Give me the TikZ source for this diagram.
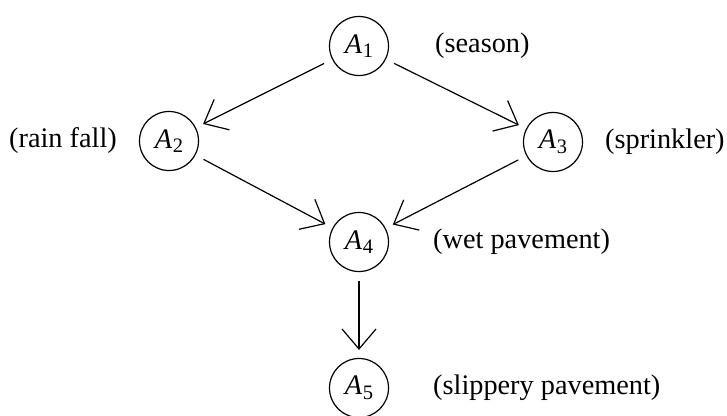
\documentclass[tikz,border=0pt]{standalone}
\usepackage{fontspec}
\setmainfont{Liberation Serif}
\usetikzlibrary{arrows.meta}
\newcommand\Asub[1]{\textit{A}\kern0.5pt\raisebox{-4.5pt}{\fontsize{20.5}{20.5}\selectfont #1}}
\begin{document}
\begin{tikzpicture}[x=1pt,y=-1pt,
  var/.style={circle,draw,line width=1.2pt,minimum size=59pt,inner sep=0pt,
    font=\fontsize{28.3}{34}\selectfont},
  lab/.style={inner sep=0pt,font=\fontsize{28.3}{34}\selectfont},
  edge/.style={line width=1.2pt,-{Straight Barb[length=20pt,width=34pt,line width=1.2pt]},
    shorten <=9pt,shorten >=8pt}]
\useasboundingbox (0,0) rectangle (727,415);
\node[var] (a1) at (359,46) {\Asub{1}};
\node[var] (a2) at (169,141) {\Asub{2}};
\node[var] (a3) at (553,142) {\Asub{3}};
\node[var] (a4) at (359,242) {\Asub{4}};
\node[var] (a5) at (359,388) {\Asub{5}};
\node[lab,anchor=west] (l1) at (435,46) {(season)};
\node[lab,anchor=east] (l2) at (117,141) {(rain fall)};
\node[lab,anchor=west] (l3) at (605,142) {(sprinkler)};
\node[lab,anchor=west] (l4) at (433,242) {(wet pavement)};
\node[lab,anchor=west] (l5) at (433,388) {(slippery pavement)};
\draw[edge] (a1) -- (a2);
\draw[edge] (a1) -- (a3);
\draw[edge] (a2) -- (a4);
\draw[edge] (a3) -- (a4);
\draw[edge] (a4) -- (a5);
\end{tikzpicture}
\end{document}
